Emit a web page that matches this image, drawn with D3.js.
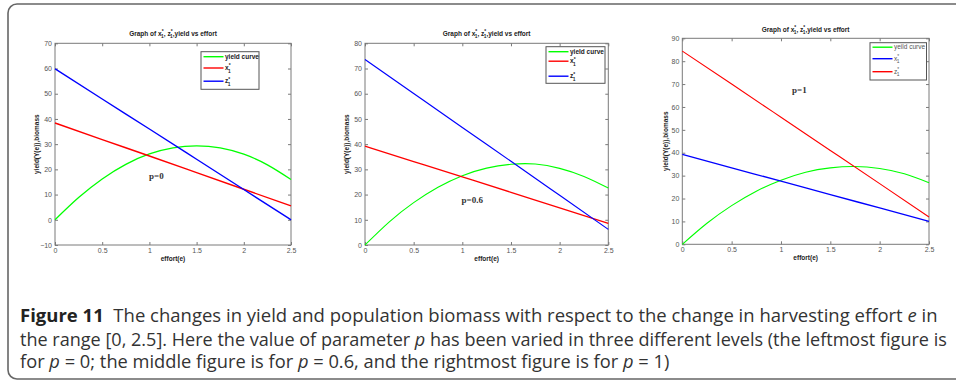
<!DOCTYPE html>
<html>
<head>
<meta charset="utf-8">
<script src="https://cdn.jsdelivr.net/npm/d3@7"></script>
<style>
  html, body { margin: 0; padding: 0; background: #fff; }
  svg { display: block; }
  .cap { white-space: pre; }
</style>
</head>
<body>
<svg id="chart" width="956" height="382"></svg>
<script>
// effort values the curves were read at
const effortFine = [0, 0.25, 0.5, 0.75, 1, 1.25, 1.5, 1.75, 2, 2.25, 2.5];
const effortCoarse = [0, 0.5, 1, 1.5, 2, 2.5];
const xTicks = [0, 0.5, 1, 1.5, 2, 2.5];

// p = 0
const yieldP0 = [0, 8.8, 16.2, 22.0, 26.1, 28.5, 29.3, 28.5, 26.0, 21.8, 16.0];
const xStarP0 = [38.4, 31.8, 25.3, 18.7, 12.1, 5.5];
const zStarP0 = [59.9, 47.9, 36.0, 24.0, 12.0, 0];
const yTicksP0 = [-10, 0, 10, 20, 30, 40, 50, 60, 70];

// p = 0.6
const yieldP06 = [0, 9.2, 16.8, 22.9, 27.5, 30.5, 32.0, 32.1, 30.4, 27.2, 22.6];
const xStarP06 = [39.2, 33.1, 27.0, 20.9, 14.7, 8.6];
const zStarP06 = [73.6, 60.1, 46.6, 33.2, 19.7, 6.2];
const yTicksP06 = [0, 10, 20, 30, 40, 50, 60, 70, 80];

// p = 1
const yieldP1 = [0, 9.2, 16.9, 23.2, 28.0, 31.5, 33.4, 34.0, 33.1, 30.8, 26.9];
const xStarP1 = [39.3, 33.4, 27.6, 21.7, 15.9, 10.0];
const zStarP1 = [84.4, 70.0, 55.5, 41.0, 26.5, 11.9];
const yTicksP1 = [0, 10, 20, 30, 40, 50, 60, 70, 80, 90];

const pLabels = ["p=0", "p=0.6", "p=1"];

const captionLines = [
  [["Figure 11", "b"], ["  The changes in yield and population biomass with respect to the change in harvesting effort ", ""], ["e", "i"], [" in", ""]],
  [["the range [0, 2.5]. Here the value of parameter ", ""], ["p", "i"], [" has been varied in three different levels (the leftmost figure is", ""]],
  [["for ", ""], ["p", "i"], [" = 0; the middle figure is for ", ""], ["p", "i"], [" = 0.6, and the rightmost figure is for ", ""], ["p", "i"], [" = 1)", ""]]
];

const GREEN = "#00ff00", RED = "#ff0000", BLUE = "#0000ff";

const panels = [
  { box: [55, 291, 43.3, 245], yDom: [-10, 70], yTicks: yTicksP0, titleY: 35.5, labelX: 39,
    series: [
      { e: effortFine, v: yieldP0, c: GREEN, w: 1.3 },
      { e: effortCoarse, v: xStarP0, c: RED, w: 1.4 },
      { e: effortCoarse, v: zStarP0, c: BLUE, w: 1.4 }],
    legend: { x: 201, y: 51.7, w: 58, h: 37.6, bold: true, rows: [["yield curve", GREEN, 5], ["x", RED, 16.3], ["z", BLUE, 29.5]] },
    pText: { x: 149, y: 179, t: pLabels[0] } },
  { box: [365, 608.3, 43.3, 245], yDom: [0, 80], yTicks: yTicksP06, titleY: 35.5, labelX: 349,
    series: [
      { e: effortFine, v: yieldP06, c: GREEN, w: 1.1 },
      { e: effortCoarse, v: xStarP06, c: RED, w: 1.3 },
      { e: effortCoarse, v: zStarP06, c: BLUE, w: 1.2 }],
    legend: { x: 546, y: 46.7, w: 59, h: 36.6, bold: true, rows: [["yield curve", GREEN, 5], ["x", RED, 14.5], ["z", BLUE, 29.5]] },
    pText: { x: 461.5, y: 203, t: pLabels[1] } },
  { box: [682.3, 929, 38.3, 244.3], yDom: [0, 90], yTicks: yTicksP1, titleY: 31.5, labelX: 667.5,
    series: [
      { e: effortFine, v: yieldP1, c: GREEN, w: 1.1 },
      { e: effortCoarse, v: xStarP1, c: BLUE, w: 1.3 },
      { e: effortCoarse, v: zStarP1, c: RED, w: 1.1 }],
    legend: { x: 870, y: 42.7, w: 56.5, h: 37.3, bold: false, rows: [["yeild curve", GREEN, 4.5], ["x", BLUE, 16], ["z", RED, 29]] },
    pText: { x: 792, y: 93, t: pLabels[2] } }
];

const svg = d3.select("#chart");

// outer rounded frame (right edge runs off the page)
svg.append("rect")
  .attr("x", 8).attr("y", 4).attr("width", 1000).attr("height", 375)
  .attr("rx", 9).attr("ry", 9)
  .attr("fill", "none").attr("stroke", "#666").attr("stroke-width", 1.6);

// letter with stacked * and subscript 1, returns dy to bring baseline back
function starSub(text, letter, fs) {
  text.append("tspan").text(letter);
  text.append("tspan").attr("font-size", fs * 0.75).attr("dy", -fs * 0.45).text("*");
  text.append("tspan").attr("font-size", fs * 0.75).attr("dx", -fs * 0.38).attr("dy", fs * 0.8).text("1");
  return -fs * 0.35;
}

const axisFont = "Liberation Sans, Arial, sans-serif";

panels.forEach(p => {
  const [l, r, t, b] = p.box;
  const x = d3.scaleLinear().domain([0, 2.5]).range([l, r]);
  const y = d3.scaleLinear().domain(p.yDom).range([b, t]);
  const g = svg.append("g");

  // box
  g.append("rect").attr("x", l).attr("y", t).attr("width", r - l).attr("height", b - t)
    .attr("fill", "#fff").attr("stroke", "#7a7a7a").attr("stroke-width", 1);

  // axes with inward ticks, mirrored on top and right
  const styleAxis = sel => {
    sel.select(".domain").remove();
    sel.selectAll(".tick line").attr("stroke", "#7a7a7a");
    sel.selectAll(".tick text").attr("fill", "#555").attr("font-family", axisFont).attr("font-size", 7);
  };
  g.append("g").attr("transform", `translate(0,${b})`)
    .call(d3.axisBottom(x).tickValues(xTicks).tickSizeInner(-3).tickSizeOuter(0).tickPadding(3).tickFormat(d3.format("")))
    .call(styleAxis);
  g.append("g").attr("transform", `translate(0,${t})`)
    .call(d3.axisTop(x).tickValues(xTicks).tickSizeInner(-3).tickSizeOuter(0).tickFormat(""))
    .call(styleAxis);
  g.append("g").attr("transform", `translate(${l},0)`)
    .call(d3.axisLeft(y).tickValues(p.yTicks).tickSizeInner(-3).tickSizeOuter(0).tickPadding(3))
    .call(styleAxis);
  g.append("g").attr("transform", `translate(${r},0)`)
    .call(d3.axisRight(y).tickValues(p.yTicks).tickSizeInner(-3).tickSizeOuter(0).tickFormat(""))
    .call(styleAxis);

  // series
  p.series.forEach(s => {
    const pts = s.e.map((e, i) => [e, s.v[i]]);
    g.append("path").datum(pts)
      .attr("fill", "none").attr("stroke", s.c).attr("stroke-width", s.w)
      .attr("d", d3.line().x(d => x(d[0])).y(d => y(d[1])).curve(d3.curveNatural));
  });

  // title
  const title = g.append("text").attr("x", (l + r) / 2).attr("y", p.titleY)
    .attr("text-anchor", "middle").attr("font-family", axisFont).attr("font-size", 6.5)
    .attr("font-weight", "bold").attr("fill", "#222");
  title.append("tspan").text("Graph of ");
  let dy = starSub(title, "x", 6.5);
  title.append("tspan").attr("dy", dy).text(", ");
  dy = starSub(title, "z", 6.5);
  title.append("tspan").attr("dy", dy).text(",yield vs effort");

  // axis labels
  g.append("text").attr("x", (l + r) / 2).attr("y", b + 15.5).attr("text-anchor", "middle")
    .attr("font-family", axisFont).attr("font-size", 6.5).attr("font-weight", "bold").attr("fill", "#222")
    .text("effort(e)");
  g.append("text").attr("transform", `translate(${p.labelX},${(t + b) / 2}) rotate(-90)`)
    .attr("text-anchor", "middle").attr("font-family", axisFont).attr("font-size", 6.5)
    .attr("font-weight", "bold").attr("fill", "#222")
    .text("yield(Y(e)),biomass");

  // legend
  const L = p.legend;
  const lg = g.append("g").attr("transform", `translate(${L.x},${L.y})`);
  lg.append("rect").attr("width", L.w).attr("height", L.h)
    .attr("fill", "#fff").attr("stroke", "#555").attr("stroke-width", 1);
  L.rows.forEach(([label, color, ry]) => {
    lg.append("line").attr("x1", 2.5).attr("x2", 22.5).attr("y1", ry).attr("y2", ry)
      .attr("stroke", color).attr("stroke-width", 1.4);
    const tx = lg.append("text").attr("x", 24).attr("y", ry + 2.3)
      .attr("font-family", axisFont).attr("font-size", 6.5)
      .attr("font-weight", L.bold ? "bold" : "normal").attr("fill", L.bold ? "#222" : "#555");
    if (label.length === 1) starSub(tx, label, 6.5);
    else tx.text(label);
  });

  // p annotation
  g.append("text").attr("x", p.pText.x).attr("y", p.pText.y)
    .attr("font-family", "Liberation Serif, Times New Roman, serif").attr("font-size", 9)
    .attr("font-weight", "bold").attr("fill", "#333").text(p.pText.t);
});

// caption
const capBase = [322, 345.5, 368];
const capEnd = [938, 948, null];
const capNodes = captionLines.map((parts, i) => {
  const t = svg.append("text").attr("class", "cap").attr("x", 0).attr("y", 0)
    .attr("font-family", "Open Sans, Noto Sans, sans-serif").attr("font-size", 18).attr("fill", "#333");
  parts.forEach(([s, f]) => {
    const sp = t.append("tspan").text(s);
    if (f === "b") sp.attr("font-weight", "bold").attr("fill", "#222");
    if (f === "i") sp.attr("font-style", "italic");
  });
  return t;
});
const scales = capNodes.map((t, i) => capEnd[i] ? (capEnd[i] - 20) / t.node().getComputedTextLength() : null);
const kAvg = (scales[0] + scales[1]) / 2;
capNodes.forEach((t, i) => {
  t.attr("transform", `translate(20,${capBase[i]}) scale(${scales[i] || kAvg},1)`);
});
</script>
</body>
</html>
